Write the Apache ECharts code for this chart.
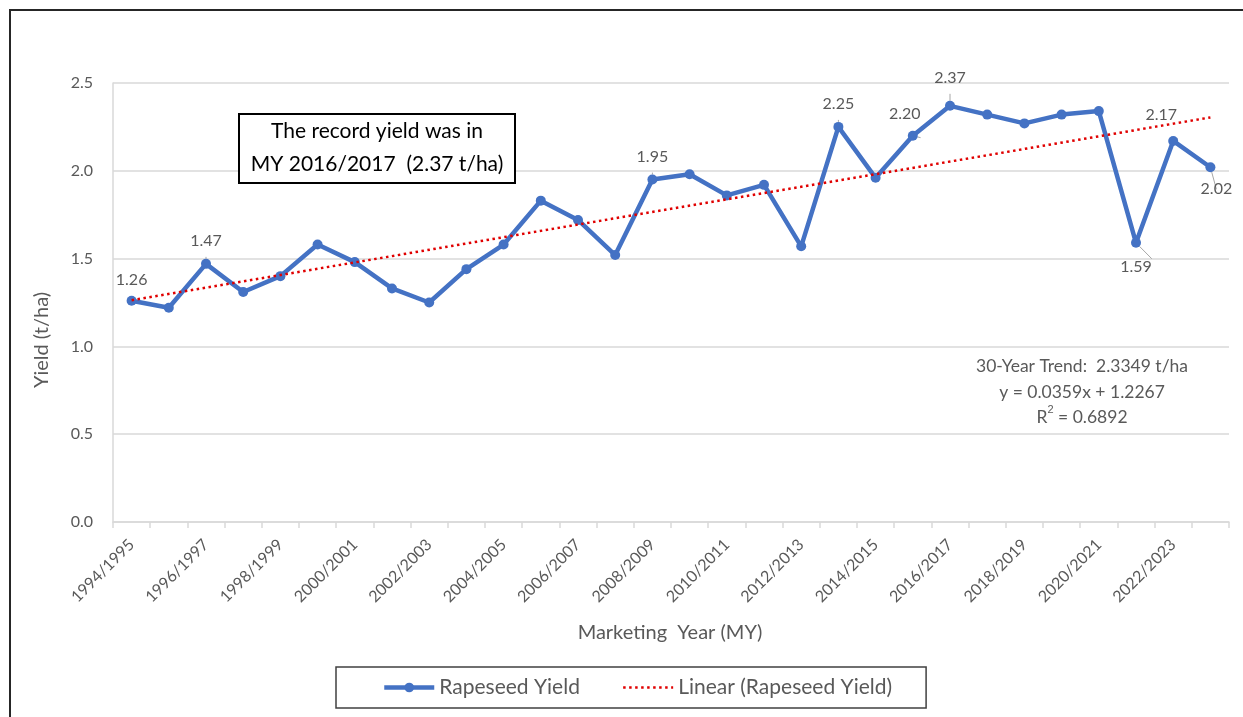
<!DOCTYPE html>
<html>
<head>
<meta charset="utf-8">
<script src="https://cdn.jsdelivr.net/npm/echarts@6/dist/echarts.min.js"></script>
<style>
  html, body { margin: 0; padding: 0; background: #fff; }
  #chart { width: 1243px; height: 717px; }
</style>
</head>
<body>
<div id="chart"></div>
<script>
// marketing years
var years = [
  "1994/1995", "1995/1996", "1996/1997", "1997/1998", "1998/1999", "1999/2000",
  "2000/2001", "2001/2002", "2002/2003", "2003/2004", "2004/2005", "2005/2006",
  "2006/2007", "2007/2008", "2008/2009", "2009/2010", "2010/2011", "2011/2012",
  "2012/2013", "2013/2014", "2014/2015", "2015/2016", "2016/2017", "2017/2018",
  "2018/2019", "2019/2020", "2020/2021", "2021/2022", "2022/2023", "2023/2024"
];
// rapeseed yield, t/ha
var yieldValues = [
  1.26, 1.22, 1.47, 1.31, 1.40, 1.58, 1.48, 1.33, 1.25, 1.44,
  1.58, 1.83, 1.72, 1.52, 1.95, 1.98, 1.86, 1.92, 1.57, 2.25,
  1.96, 2.20, 2.37, 2.32, 2.27, 2.32, 2.34, 1.59, 2.17, 2.02
];
// linear trend line, start and end values (first and last year)
var trendYears = ["1994/1995", "2023/2024"];
var trendValues = [1.263, 2.304];
var yTicks = [0, 0.5, 1.0, 1.5, 2.0, 2.5];

// which points carry a value label, and where it sits
var labelled = {
  0: { position: "top", distance: 8 },
  2: { position: "top", distance: 10 },
  14: { position: "top", distance: 10 },
  19: { position: "top", distance: 10 },
  21: { position: "top", offset: [-8, -4] },
  22: { position: "top", offset: [0, -10] },
  28: { position: "top", offset: [-12, -8] },
  27: { position: "bottom", offset: [0, 6] },
  29: { position: "bottom", offset: [6, 4] }
};

var grey = "#595959";
var font = "Lato";

var chart = echarts.init(document.getElementById("chart"));

var lineData = yieldValues.map(function (v, i) {
  var item = { value: v };
  if (labelled[i]) {
    item.label = Object.assign({ show: true }, labelled[i]);
  }
  return item;
});

var option = {
  animation: false,
  textStyle: { fontFamily: font },
  grid: { left: 113, right: 14, top: 83, bottom: 195 },
  legend: {
    top: 667,
    left: 336,
    itemGap: 42,
    itemWidth: 50,
    itemHeight: 12,
    padding: [10, 34, 10, 46],
    borderColor: "#404040",
    borderWidth: 1.5,
    textStyle: { fontSize: 21, color: grey, fontFamily: font },
    data: [
      { name: "Rapeseed Yield", lineStyle: { width: 4.5 } },
      { name: "Linear (Rapeseed Yield)", itemStyle: { opacity: 0 }, lineStyle: { width: 2.5 } }
    ]
  },
  xAxis: {
    type: "category",
    data: years,
    boundaryGap: true,
    axisLine: { lineStyle: { color: "#d9d9d9", width: 1.5 } },
    axisTick: { show: true, interval: 0, length: 6, lineStyle: { color: "#d9d9d9", width: 1.5 } },
    axisLabel: { interval: 1, rotate: 45, fontSize: 16, color: grey, margin: 20 }
  },
  yAxis: {
    type: "value",
    min: yTicks[0],
    max: yTicks[yTicks.length - 1],
    interval: 0.5,
    axisLine: { show: true, lineStyle: { color: "#d9d9d9", width: 1.5 } },
    axisTick: { show: false },
    axisLabel: {
      fontSize: 16, color: grey, margin: 20,
      formatter: function (v) { return v.toFixed(1); }
    },
    splitLine: { lineStyle: { color: "#d9d9d9", width: 1.5 } }
  },
  series: [
    {
      name: "Rapeseed Yield",
      type: "line",
      data: lineData,
      symbol: "circle",
      symbolSize: 10,
      z: 3,
      lineStyle: { color: "#4472C4", width: 4.5 },
      itemStyle: { color: "#4472C4" },
      label: {
        show: false,
        fontSize: 16,
        color: grey,
        fontFamily: font,
        formatter: function (p) { return p.value.toFixed(2); }
      },
      labelLine: { show: true, lineStyle: { color: "#a6a6a6", width: 1 } }
    },
    {
      name: "Linear (Rapeseed Yield)",
      type: "line",
      data: trendYears.map(function (y, i) { return [y, trendValues[i]]; }),
      symbol: "none",
      z: 4,
      silent: true,
      lineStyle: { color: "#e00000", width: 2.5, type: [2.5, 3.5] },
      itemStyle: { color: "#e00000" }
    }
  ],
  graphic: [
    {
      type: "rect",
      shape: { x: 10, y: 10, width: 1260, height: 740 },
      style: { fill: null, stroke: "#262626", lineWidth: 2 },
      silent: true
    },
    {
      type: "rect",
      shape: { x: 239, y: 114, width: 276, height: 69 },
      style: { fill: "#fff", stroke: "#000", lineWidth: 2 },
      z: 10
    },
    {
      type: "text",
      x: 377, y: 148,
      z: 11,
      style: {
        text: "The record yield was in\nMY 2016/2017  (2.37 t/ha)",
        fill: "#000",
        font: "21px " + font,
        lineHeight: 33,
        align: "center",
        verticalAlign: "middle"
      }
    },
    {
      type: "text",
      x: 1082, y: 392,
      z: 11,
      style: {
        text: "30-Year Trend:  2.3349 t/ha\ny = 0.0359x + 1.2267\nR{sup|2} = 0.6892",
        fill: grey,
        font: "17.5px " + font,
        lineHeight: 25.5,
        align: "center",
        verticalAlign: "middle",
        rich: {
          sup: { fontSize: 11, verticalAlign: "top", fill: grey, padding: [0, 0, 7, 0] }
        }
      }
    },
    {
      type: "text",
      x: 670, y: 633,
      style: {
        text: "Marketing  Year (MY)",
        fill: grey,
        font: "20px " + font,
        align: "center",
        verticalAlign: "middle"
      }
    },
    {
      type: "text",
      x: 42, y: 340,
      rotation: Math.PI / 2,
      style: {
        text: "Yield (t/ha)",
        fill: grey,
        font: "20px " + font,
        align: "center",
        verticalAlign: "middle"
      }
    }
  ]
};

chart.setOption(option);
</script>
</body>
</html>
